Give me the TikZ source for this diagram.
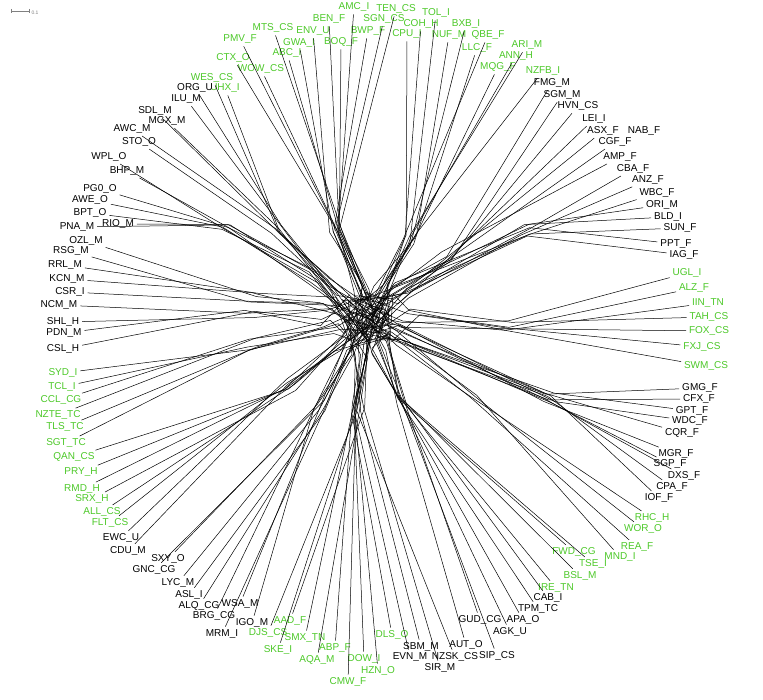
\documentclass[tikz,border=0pt]{standalone}
\usepackage{fontspec}
\setmainfont{Liberation Sans}
\usetikzlibrary{calc}
\definecolor{lgreen}{RGB}{76,200,40}
\begin{document}
\begin{tikzpicture}[x=1pt,y=-1pt,
  lb/.style={inner sep=1.8pt,font=\fontsize{10}{12}\selectfont},
  g/.style={lb,text=lgreen},
  k/.style={lb,text=black},
  edge/.style={line width=0.5pt,black,shorten <=1pt,line join=round}]
\useasboundingbox (0,0) rectangle (763,700);
% scale bar
\draw[gray,line width=0.5pt] (11,11) -- (29,11) (11,9) -- (11,13) (29,9) -- (29,13);
\node[gray,font=\fontsize{5}{6}\selectfont,inner sep=0pt] (scl) at (35,13) {0.1};
% hubs: outer (o) and inner (i)
\coordinate (C) at (368,318);
\coordinate (oUL) at (225,228);  \coordinate (iUL) at (318,282);
\coordinate (oA) at (278,232);   \coordinate (iA) at (335,288);
\coordinate (oB) at (255,296);   \coordinate (iB) at (328,306);
\coordinate (oC) at (250,314);   \coordinate (iC) at (328,316);
\coordinate (oD) at (250,345);   \coordinate (iD) at (332,324);
\coordinate (oDD) at (290,385);  \coordinate (iDD) at (342,342);
\coordinate (oE) at (318,405);   \coordinate (iE) at (350,350);
\coordinate (oF) at (358,410);   \coordinate (iF) at (362,352);
\coordinate (oG) at (400,400);   \coordinate (iG) at (380,345);
\coordinate (oH) at (550,398);   \coordinate (iH) at (398,332);
\coordinate (oHH) at (470,395);  \coordinate (iHH) at (390,340);
\coordinate (oI) at (505,326);   \coordinate (iI) at (410,318);
\coordinate (oJ) at (525,230);   \coordinate (iJ) at (402,292);
\coordinate (oJJ) at (445,258);  \coordinate (iJJ) at (392,296);
\coordinate (oK) at (410,240);   \coordinate (iK) at (380,294);
\coordinate (oL) at (335,228);   \coordinate (iL) at (360,294);
% top (L)
\node[g] (TENCS) at (396,9) {TEN\_CS};
\node[g] (SGNCS) at (384,19) {SGN\_CS};
\node[g] (AMCI) at (354,7) {AMC\_I};
\node[g] (BWPF) at (368,31) {BWP\_F};
\node[g] (BENF) at (329,19) {BEN\_F};
\node[g] (BOQF) at (341,42) {BOQ\_F};
\node[g] (ENVU) at (313,31) {ENV\_U};
\node[g] (GWAI) at (299,43) {GWA\_I};
\node[g] (MTSCS) at (273,28) {MTS\_CS};
\node[g] (ABCI) at (287,53) {ABC\_I};
\node[g] (PMVF) at (240,39) {PMV\_F};
\node[g] (WOWCS) at (261,69) {WOW\_CS};
\node[g] (CTXO) at (233,58) {CTX\_O};
\node[g] (WESCS) at (212,78) {WES\_CS};
\node[g] (UHXI) at (225,88) {UHX\_I};
% top right (K)
\node[g] (NZFBI) at (543,71) {NZFB\_I};
\node[g] (MQGF) at (498,67) {MQG\_F};
\node[g] (ANNH) at (516,56) {ANN\_H};
\node[g] (ARIM) at (527,45) {ARI\_M};
\node[g] (LLCF) at (477,48) {LLC\_F};
\node[g] (QBEF) at (488,35) {QBE\_F};
\node[g] (BXBI) at (466,24) {BXB\_I};
\node[g] (NUFM) at (449,35) {NUF\_M};
\node[g] (TOLI) at (436,13) {TOL\_I};
\node[g] (COHH) at (421,24) {COH\_H};
\node[g] (CPUI) at (407,34) {CPU\_I};
% upper right (J)
\node[k] (FMGM) at (552,83) {FMG\_M};
\node[k] (SGMM) at (562,95) {SGM\_M};
\node[k] (HVNCS) at (578,106) {HVN\_CS};
\node[k] (LEII) at (594,119) {LEI\_I};
\node[k] (ASXF) at (603,131) {ASX\_F};
\node[k] (NABF) at (644,131) {NAB\_F};
\node[k] (CGFF) at (615,142) {CGF\_F};
\node[k] (AMPF) at (620,157) {AMP\_F};
\node[k] (CBAF) at (633,169) {CBA\_F};
\node[k] (ANZF) at (648,180) {ANZ\_F};
\node[k] (WBCF) at (657,193) {WBC\_F};
\node[k] (ORIM) at (662,205) {ORI\_M};
\node[k] (BLDI) at (668,217) {BLD\_I};
\node[k] (SUNF) at (680,228) {SUN\_F};
\node[k] (PPTF) at (676,244) {PPT\_F};
\node[k] (IAGF) at (684,255) {IAG\_F};
% right (I)
\node[g] (UGLI) at (687,273) {UGL\_I};
\node[g] (ALZF) at (694,288) {ALZ\_F};
\node[g] (IINTN) at (708,303) {IIN\_TN};
\node[g] (TAHCS) at (709,317) {TAH\_CS};
\node[g] (FOXCS) at (709,331) {FOX\_CS};
\node[g] (FXJCS) at (702,347) {FXJ\_CS};
\node[g] (SWMCS) at (706,366) {SWM\_CS};
% lower right (H)
\node[k] (GMGF) at (700,388) {GMG\_F};
\node[k] (CFXF) at (699,399) {CFX\_F};
\node[k] (GPTF) at (692,411) {GPT\_F};
\node[k] (WDCF) at (690,421) {WDC\_F};
\node[k] (CQRF) at (682,433) {CQR\_F};
\node[k] (MGRF) at (676,454) {MGR\_F};
\node[k] (SGPF) at (670,464) {SGP\_F};
\node[k] (DXSF) at (684,476) {DXS\_F};
\node[k] (CPAF) at (672,487) {CPA\_F};
\node[k] (IOFF) at (659,498) {IOF\_F};
\node[g] (RHCH) at (652,518) {RHC\_H};
\node[g] (WORO) at (643,529) {WOR\_O};
\node[g] (REAF) at (637,547) {REA\_F};
% bottom right (G)
\node[g] (MNDI) at (620,557) {MND\_I};
\node[g] (FWDCG) at (574,552) {FWD\_CG};
\node[g] (TSEI) at (593,564) {TSE\_I};
\node[g] (BSLM) at (580,576) {BSL\_M};
\node[g] (IRETN) at (556,588) {IRE\_TN};
\node[k] (CABI) at (548,598) {CAB\_I};
\node[k] (TPMTC) at (538,609) {TPM\_TC};
\node[k] (APAO) at (523,620) {APA\_O};
\node[k] (GUDCG) at (480,620) {GUD\_CG};
\node[k] (AGKU) at (510,632) {AGK\_U};
\node[k] (AUTO) at (466,645) {AUT\_O};
\node[k] (SIPCS) at (497,656) {SIP\_CS};
% bottom (F)
\node[k] (NZSKCS) at (455,657) {NZSK\_CS};
\node[k] (SIRM) at (440,668) {SIR\_M};
\node[k] (SBMM) at (421,647) {SBM\_M};
\node[k] (EVNM) at (410,657) {EVN\_M};
\node[g] (DLSO) at (392,635) {DLS\_O};
\node[g] (HZNO) at (378,671) {HZN\_O};
\node[g] (DOWI) at (364,659) {DOW\_I};
\node[g] (CMWF) at (348,682) {CMW\_F};
\node[g] (ABPF) at (335,648) {ABP\_F};
\node[g] (AQAM) at (317,660) {AQA\_M};
\node[g] (SMXTN) at (305,638) {SMX\_TN};
\node[g] (SKEI) at (278,650) {SKE\_I};
\node[g] (AADF) at (290,621) {AAD\_F};
\node[g] (DJSCS) at (268,633) {DJS\_CS};
% bottom left (E)
\node[k] (IGOM) at (252,623) {IGO\_M};
\node[k] (MRMI) at (222,634) {MRM\_I};
\node[k] (WSAM) at (240,604) {WSA\_M};
\node[k] (BRGCG) at (214,616) {BRG\_CG};
\node[k] (ALQCG) at (199,606) {ALQ\_CG};
\node[k] (ASLI) at (189,595) {ASL\_I};
\node[k] (LYCM) at (178,583) {LYC\_M};
\node[k] (GNCCG) at (154,570) {GNC\_CG};
\node[k] (SXYO) at (168,559) {SXY\_O};
% lower left (D)
\node[k] (CDUM) at (128,551) {CDU\_M};
\node[k] (EWCU) at (121,538) {EWC\_U};
\node[g] (FLTCS) at (110,523) {FLT\_CS};
\node[g] (ALLCS) at (102,512) {ALL\_CS};
\node[g] (SRXH) at (92,499) {SRX\_H};
\node[g] (RMDH) at (82,489) {RMD\_H};
\node[g] (PRYH) at (81,472) {PRY\_H};
\node[g] (QANCS) at (74,457) {QAN\_CS};
\node[g] (SGTTC) at (66,443) {SGT\_TC};
\node[g] (TLSTC) at (65,427) {TLS\_TC};
\node[g] (NZTETC) at (58,415) {NZTE\_TC};
\node[g] (CCLCG) at (61,400) {CCL\_CG};
\node[g] (TCLI) at (62,387) {TCL\_I};
\node[g] (SYDI) at (63,373) {SYD\_I};
% left (C)
\node[k] (CSLH) at (63,349) {CSL\_H};
\node[k] (PDNM) at (64,333) {PDN\_M};
\node[k] (SHLH) at (63,322) {SHL\_H};
\node[k] (NCMM) at (59,305) {NCM\_M};
\node[k] (CSRI) at (70,292) {CSR\_I};
\node[k] (KCNM) at (67,279) {KCN\_M};
% upper left (B)
\node[k] (RRLM) at (65,265) {RRL\_M};
\node[k] (RSGM) at (71,251) {RSG\_M};
\node[k] (OZLM) at (86,241) {OZL\_M};
\node[k] (PNAM) at (77,227) {PNA\_M};
\node[k] (RIOM) at (118,224) {RIO\_M};
\node[k] (BPTO) at (90,213) {BPT\_O};
\node[k] (AWEO) at (90,200) {AWE\_O};
\node[k] (PGO) at (100,189) {PG0\_O};
% upper left (A)
\node[k] (BHPM) at (127,171) {BHP\_M};
\node[k] (WPLO) at (109,157) {WPL\_O};
\node[k] (STOO) at (139,142) {STO\_O};
\node[k] (AWCM) at (132,129) {AWC\_M};
\node[k] (MGXM) at (167,121) {MGX\_M};
\node[k] (SDLM) at (155,111) {SDL\_M};
\node[k] (ILUM) at (186,99) {ILU\_M};
\node[k] (ORGU) at (195,88) {ORG\_U};
% connectors: label -> spike start -> spike end -> centre
\pgfmathsetseed{11}
\foreach \n/\o/\i in {TENCS/oL/iL,SGNCS/oL/iL,AMCI/oL/iL,BWPF/oL/iL,BENF/oL/iL,BOQF/oL/iL,ENVU/oL/iL,GWAI/oL/iL,MTSCS/oL/iL,ABCI/oL/iL,PMVF/oL/iL,WOWCS/oL/iL,CTXO/oL/iL,WESCS/oA/iA,UHXI/oA/iA,
  NZFBI/oK/iK,MQGF/oK/iK,ANNH/oK/iK,ARIM/oK/iK,LLCF/oK/iK,QBEF/oK/iK,BXBI/oK/iK,NUFM/oK/iK,TOLI/oK/iK,COHH/oK/iK,CPUI/oK/iK,
  FMGM/oJJ/iJJ,SGMM/oJJ/iJJ,HVNCS/oJJ/iJJ,LEII/oJJ/iJJ,ASXF/oJJ/iJJ,CGFF/oJJ/iJJ,AMPF/oJJ/iJJ,
  CBAF/oJ/iJ,ANZF/oJ/iJ,WBCF/oJ/iJ,ORIM/oJ/iJ,BLDI/oJ/iJ,SUNF/oJ/iJ,PPTF/oJ/iJ,IAGF/oJ/iJ,
  UGLI/oI/iI,ALZF/oI/iI,IINTN/oI/iI,TAHCS/oI/iI,FOXCS/oI/iI,FXJCS/oI/iI,SWMCS/oI/iI,
  GMGF/oH/iH,CFXF/oH/iH,GPTF/oH/iH,WDCF/oH/iH,CQRF/oH/iH,MGRF/oH/iH,SGPF/oH/iH,DXSF/oH/iH,CPAF/oH/iH,IOFF/oH/iH,
  RHCH/oHH/iHH,WORO/oHH/iHH,REAF/oHH/iHH,MNDI/oHH/iHH,
  FWDCG/oG/iG,TSEI/oG/iG,BSLM/oG/iG,IRETN/oG/iG,CABI/oG/iG,TPMTC/oG/iG,APAO/oG/iG,GUDCG/oG/iG,AGKU/oG/iG,AUTO/oG/iG,SIPCS/oG/iG,
  NZSKCS/oF/iF,SIRM/oF/iF,SBMM/oF/iF,EVNM/oF/iF,DLSO/oF/iF,HZNO/oF/iF,DOWI/oF/iF,CMWF/oF/iF,ABPF/oF/iF,AQAM/oF/iF,SMXTN/oF/iF,SKEI/oF/iF,AADF/oF/iF,DJSCS/oF/iF,
  IGOM/oE/iE,MRMI/oE/iE,WSAM/oE/iE,BRGCG/oE/iE,ALQCG/oE/iE,ASLI/oE/iE,LYCM/oE/iE,GNCCG/oE/iE,SXYO/oE/iE,
  CDUM/oDD/iDD,EWCU/oDD/iDD,FLTCS/oDD/iDD,ALLCS/oDD/iDD,SRXH/oDD/iDD,RMDH/oDD/iDD,PRYH/oDD/iDD,QANCS/oDD/iDD,
  SGTTC/oD/iD,TLSTC/oD/iD,NZTETC/oD/iD,CCLCG/oD/iD,TCLI/oD/iD,SYDI/oD/iD,
  CSLH/oC/iC,PDNM/oC/iC,SHLH/oC/iC,NCMM/oC/iC,CSRI/oB/iB,KCNM/oB/iB,
  RRLM/oB/iB,RSGM/oB/iB,OZLM/oB/iB,
  PNAM/oUL/iUL,RIOM/oUL/iUL,BPTO/oUL/iUL,AWEO/oUL/iUL,PGO/oUL/iUL,BHPM/oUL/iUL,WPLO/oUL/iUL,
  STOO/oA/iA,AWCM/oA/iA,MGXM/oA/iA,SDLM/oA/iA,ILUM/oA/iA,ORGU/oA/iA}{
  \pgfmathsetmacro\ax{7*rand}\pgfmathsetmacro\ay{7*rand}
  \pgfmathsetmacro\bx{10*rand}\pgfmathsetmacro\by{10*rand}
  \pgfmathsetmacro\cx{26*rand}\pgfmathsetmacro\cy{26*rand}
  \draw[edge] (\n) -- ($(\o)+(\ax,\ay)$) -- ($(\i)+(\bx,\by)$) -- ($(C)+(\cx,\cy)$);
}
\end{tikzpicture}
\end{document}
